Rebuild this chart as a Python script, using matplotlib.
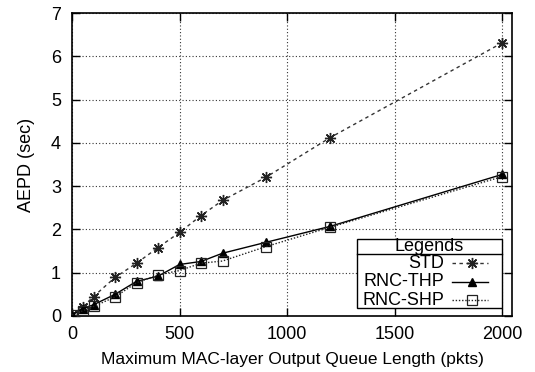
import matplotlib
matplotlib.use("Agg")
import matplotlib.pyplot as plt
from matplotlib.patches import Rectangle
from matplotlib.lines import Line2D

queue_len = [0, 50, 100, 200, 300, 400, 500, 600, 700, 900, 1200, 2000]
std = [0.03, 0.21, 0.45, 0.89, 1.22, 1.58, 1.93, 2.32, 2.67, 3.20, 4.12, 6.31]
rnc_thp = [0.03, 0.17, 0.26, 0.50, 0.80, 0.92, 1.19, 1.26, 1.45, 1.70, 2.07, 3.27]
rnc_shp = [0.03, 0.12, 0.22, 0.44, 0.77, 0.95, 1.05, 1.22, 1.27, 1.60, 2.05, 3.22]
series_labels = ["STD", "RNC-THP", "RNC-SHP"]
xticks = [0, 500, 1000, 1500, 2000]
yticks = [0, 1, 2, 3, 4, 5, 6, 7]

plt.rcParams['font.family'] = ['Liberation Sans', 'DejaVu Sans']
FS = 13
plt.rcParams['font.size'] = FS

fig = plt.figure(figsize=(5.35, 3.72), dpi=100)
ax = fig.add_axes([72/535, 1-316/372, 440/535, 303/372])

ast = (8, 2, 0)
styles = [
    dict(color='#333333', ls=(0, (2.5, 2.5)), lw=1.0, marker=ast, ms=8, mew=1.0, mec='#222222'),
    dict(color='black', ls='-', lw=1.0, marker='^', ms=6, mfc='black', mec='black'),
    dict(color='#222222', ls=(0, (1, 1.3)), lw=1.0, marker='s', ms=7, mfc='none', mec='#222222', mew=0.9),
]
for ys, st in zip([std, rnc_thp, rnc_shp], styles):
    ax.plot(queue_len, ys, zorder=3, **st)

ax.set_xlim(0, 2046)
ax.set_ylim(0, 7)
ax.set_xticks(xticks)
ax.set_yticks(yticks)
ax.grid(True, color='#333333', ls=(0, (1, 2)), lw=0.8)
ax.tick_params(direction='in', length=6, width=1.0, top=True, right=True, labelsize=FS)
ax.tick_params(axis='x', pad=7)
ax.tick_params(axis='y', pad=8)
for s in ax.spines.values():
    s.set_linewidth(1.2)
ax.set_xlabel("Maximum MAC-layer Output Queue Length (pkts)", fontsize=12.5, labelpad=7)
ax.set_ylabel("AEPD (sec)", fontsize=FS, labelpad=11)

# legend box (gnuplot style)
T = ax.transAxes
x0, x1 = 0.648, 0.977
y0, y1 = 0.0264, 0.254
ax.add_patch(Rectangle((x0, y0), x1 - x0, y1 - y0, transform=T, facecolor='white',
                       edgecolor='black', lw=1.0, zorder=5))
ax.add_line(Line2D([x0, x1], [0.2046, 0.2046], transform=T, color='black', lw=1.0, zorder=6))
ax.text((x0 + x1) / 2, 0.229, "Legends", transform=T, ha='center', va='center', fontsize=FS, zorder=6)
ypos = [0.174, 0.113, 0.0528]
for lab, yy, st in zip(series_labels, ypos, styles):
    ax.text(0.8455, yy, lab, transform=T, ha='right', va='center', fontsize=FS, zorder=6)
    ax.add_line(Line2D([0.8635, 0.945], [yy, yy], transform=T, zorder=6,
                       **{k: v for k, v in st.items() if k not in ('marker', 'ms', 'mfc', 'mec', 'mew')}))
    ax.add_line(Line2D([0.908], [yy], transform=T, ls='none', zorder=7,
                       **{k: v for k, v in st.items() if k in ('marker', 'ms', 'mfc', 'mec', 'mew', 'color')}))

fig.savefig("out.png", dpi=100)
